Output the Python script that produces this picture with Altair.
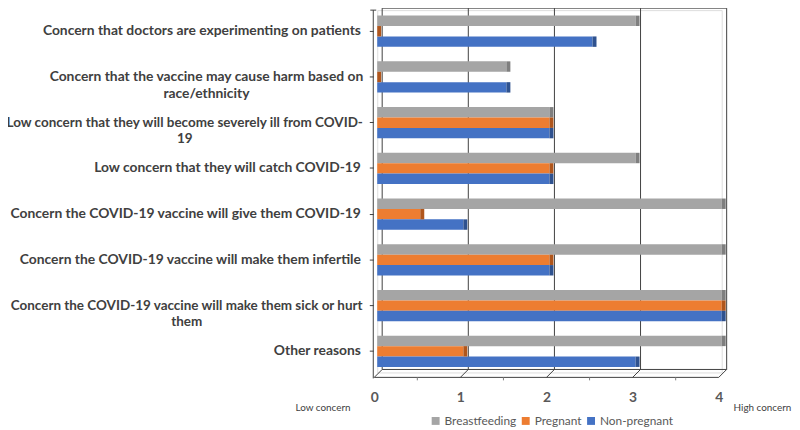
import altair as alt
import pandas as pd

categories = [
    "Concern that doctors are experimenting on patients",
    "Concern that the vaccine may cause harm based on\nrace/ethnicity",
    "Low concern that they will become severely ill from COVID-\n19",
    "Low concern that they will catch COVID-19",
    "Concern the COVID-19 vaccine will give them COVID-19",
    "Concern the COVID-19 vaccine will make them infertile",
    "Concern the COVID-19 vaccine will make them sick or hurt\nthem",
    "Other reasons",
]
series = ["Breastfeeding", "Pregnant", "Non-pregnant"]
breastfeeding = [3, 1.5, 2, 3, 4, 4, 4, 4]
pregnant = [0, 0, 2, 2, 0.5, 2, 4, 1]
non_pregnant = [2.5, 1.5, 2, 2, 1, 2, 4, 3]
x_ticks = [0, 1, 2, 3, 4]
half_ticks = [0.5, 1.5, 2.5, 3.5]
colors = ["#A5A5A5", "#ED7D31", "#4472C4"]
cap_colors = ["#7F7F7F", "#B0561C", "#2F528F"]
low_label = "Low concern"
high_label = "High concern"

W, H = 348, 366
FRAME = "#404040"

rows = []
for s, vals in zip(series, [breastfeeding, pregnant, non_pregnant]):
    for c, v in zip(categories, vals):
        rows.append({"category": c, "series": s, "value": v})
df = pd.DataFrame(rows)

xscale = alt.Scale(domain=[0, 4], nice=False, zero=True)
yscale = alt.Scale(domain=categories, paddingInner=0.317, paddingOuter=0.12)

T_RACE = "indexof(datum.value, 'race/') >= 0"
T_ILL = "indexof(datum.value, 'severely') >= 0"
T_SICK = "indexof(datum.value, 'sick or') >= 0"

y_axis = alt.Axis(
    labelExpr="split(datum.label, '\\n')",
    labelFont="Lato", labelFontWeight="bold", labelColor="#404040",
    labelFontSize={"condition": {"test": f"{T_ILL} || {T_SICK}", "value": 13.6}, "value": 14},
    labelLineHeight=17, labelLimit=440,
    labelAlign={"condition": {"test": f"{T_RACE} || {T_ILL} || {T_SICK}", "value": "center"}, "value": "right"},
    labelPadding={"condition": [
        {"test": T_RACE, "value": 165},
        {"test": T_ILL, "value": 187},
        {"test": T_SICK, "value": 185},
    ], "value": 9},
    offset=4, domain=False, ticks=True, tickSize=4, tickColor=FRAME, grid=False,
)
x_axis = alt.Axis(
    values=x_ticks, labelOffset=-3, labelFlush=False, labelPadding=18, domain=False, ticks=False,
    grid=False, labelFont="Lato", labelFontSize=14, labelFontWeight="bold", labelColor="#595959",
)

X = alt.X("value:Q", scale=xscale, axis=x_axis, title=None)
Y = alt.Y("category:N", sort=categories, scale=yscale, axis=y_axis, title=None)
YO = alt.YOffset("series:N", sort=series, scale=alt.Scale(domain=series))

base = alt.Chart(df)
bars = base.mark_bar().encode(
    x=X, y=Y, yOffset=YO,
    color=alt.Color(
        "series:N", sort=series,
        scale=alt.Scale(domain=series, range=colors),
        legend=alt.Legend(
            title=None, orient="none", direction="horizontal", legendX=53, legendY=H + 43,
            symbolType="square", symbolSize=64, symbolStrokeWidth=0,
            labelFont="Lato", labelFontSize=12, labelColor="#595959", columnPadding=3,
            labelOffset=3,
        ),
    ),
)
caps = base.mark_bar(x2Offset=4).encode(
    x=X, x2="value:Q", y=Y, yOffset=YO,
    color=alt.Color("series:N", sort=series, scale=alt.Scale(domain=series, range=cap_colors), legend=None),
)

grid_df = pd.DataFrame({"value": x_ticks})
half_df = pd.DataFrame({"value": half_ticks})
span_df = pd.DataFrame({"value": [x_ticks[0]], "end": [x_ticks[-1]]})

back_grid = alt.Chart(grid_df).mark_rule(color=FRAME, strokeWidth=1, xOffset=5).encode(
    x=X, y=alt.value(-2), y2=alt.value(H - 3)
)
back_top = alt.Chart(span_df).mark_rule(color=FRAME, strokeWidth=1, xOffset=5, x2Offset=5).encode(
    x=X, x2="end:Q", y=alt.value(-2)
)
back_bottom = alt.Chart(span_df).mark_rule(color=FRAME, strokeWidth=1, xOffset=5, x2Offset=5).encode(
    x=X, x2="end:Q", y=alt.value(H - 3)
)
front_axis = alt.Chart(span_df).mark_rule(color=FRAME, strokeWidth=1, xOffset=-3, x2Offset=-3).encode(
    x=X, x2="end:Q", y=alt.value(H + 5)
)
slant = alt.Chart(grid_df).mark_rule(color=FRAME, strokeWidth=1, xOffset=-3, x2Offset=5).encode(
    x=X, x2="value:Q", y=alt.value(H + 5), y2=alt.value(H - 3)
)
half = alt.Chart(half_df).mark_rule(color="#808080", strokeWidth=1, xOffset=-3).encode(
    x=X, y=alt.value(H + 5), y2=alt.value(H + 8)
)
left_axis = alt.Chart(span_df).mark_rule(color=FRAME, strokeWidth=1, xOffset=-4).encode(
    x=X, y=alt.value(0), y2=alt.value(H + 6)
)
top_cap = alt.Chart(span_df).mark_rule(color=FRAME, strokeWidth=1, xOffset=-7, x2Offset=-1).encode(
    x=X, x2="value:Q", y=alt.value(0)
)

ann_df = pd.DataFrame({"value": [x_ticks[0], x_ticks[-1]], "t": [low_label, high_label]})
low_txt = alt.Chart(ann_df.iloc[[0]]).mark_text(
    align="right", dx=-27, font="Lato", fontSize=10, color="#404040"
).encode(x=X, y=alt.value(H + 36), text="t:N")
high_txt = alt.Chart(ann_df.iloc[[1]]).mark_text(
    align="left", dx=12, font="Lato", fontSize=10, color="#404040"
).encode(x=X, y=alt.value(H + 36), text="t:N")

chart = alt.layer(
    back_grid, back_top, back_bottom, bars, caps, front_axis, slant, half, left_axis, top_cap,
    low_txt, high_txt,
).resolve_scale(color="independent").properties(
    width=W, height=H,
    autosize=alt.AutoSizeParams(type="none"),
    padding={"left": 373, "top": 0, "right": 71, "bottom": 56},
).configure_view(stroke=None).configure(background="white")

chart.save("out.html", embed_options={"renderer": "svg", "actions": False})
